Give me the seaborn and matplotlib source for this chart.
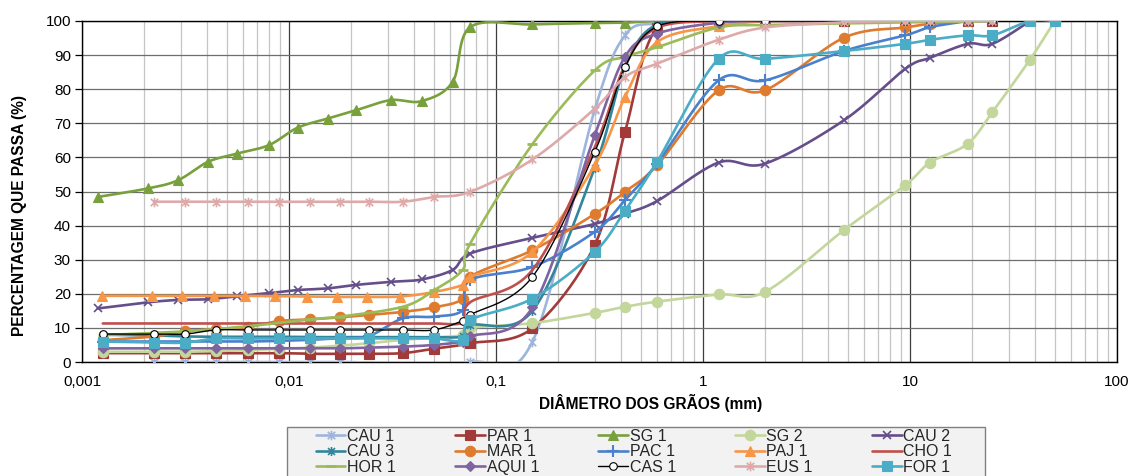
import numpy as np
import matplotlib
matplotlib.use("Agg")
import matplotlib.pyplot as plt
import seaborn as sns
from matplotlib.lines import Line2D
from matplotlib.path import Path
from matplotlib.patches import Rectangle
from matplotlib.ticker import FixedLocator, FixedFormatter, LogLocator, NullFormatter

# ---------------- data ----------------
NAMES = ["CAU 1", "PAR 1", "SG 1", "SG 2", "CAU 2", "CAU 3", "MAR 1", "PAC 1",
         "PAJ 1", "CHO 1", "HOR 1", "AQUI 1", "CAS 1", "EUS 1", "FOR 1"]

X_TICKS = [0.001, 0.01, 0.1, 1, 10, 100]
X_TICK_LABELS = ["0,001", "0,01", "0,1", "1", "10", "100"]
Y_TICKS = [0, 10, 20, 30, 40, 50, 60, 70, 80, 90, 100]

CAU1_D = [0.00223, 0.00315, 0.00444, 0.00634, 0.00895, 0.0126, 0.0176, 0.075, 0.15, 0.3, 0.42, 0.6, 1.19]
CAU1_P = [0, 0, 0, 0, 0, 0, 0, 0, 6.0, 74.0, 95.8, 99.3, 100]

PAR1_D = [0.00126, 0.00223, 0.00315, 0.00444, 0.00634, 0.00895, 0.0126, 0.0176, 0.0243, 0.0355, 0.0501,
          0.075, 0.15, 0.3, 0.42, 0.6, 1.19, 2.0, 4.8, 9.5, 12.5, 19, 25]
PAR1_P = [2.6, 2.6, 2.6, 2.6, 2.6, 2.6, 2.4, 2.4, 2.4, 2.6, 3.9,
          5.5, 9.9, 34.3, 67.5, 98.0, 100, 100, 100, 100, 100, 100, 100]

SG1_D = [0.00119, 0.00208, 0.00291, 0.00406, 0.0056, 0.0080, 0.0110, 0.0154, 0.0210, 0.0310, 0.0437, 0.0617,
         0.075, 0.15, 0.3, 0.42, 0.6, 1.19, 2.0]
SG1_P = [48.4, 50.9, 53.3, 58.7, 61.1, 63.6, 68.7, 71.4, 73.8, 76.8, 76.5, 82.1,
         98.2, 99.0, 99.4, 99.5, 100, 100, 100]

SG2_D = [0.00126, 0.00223, 0.00315, 0.00444, 0.00634, 0.00895, 0.0126, 0.0176, 0.0243, 0.0355, 0.0501, 0.069,
         0.075, 0.15, 0.3, 0.42, 0.6, 1.19, 2.0, 4.8, 9.5, 12.5, 19, 25, 38, 50]
SG2_P = [3.0, 3.0, 3.0, 3.2, 3.5, 3.8, 4.2, 4.8, 5.5, 6.5, 7.2, 7.9,
         10.0, 11.4, 14.4, 16.2, 17.7, 19.8, 20.6, 38.7, 51.9, 58.5, 64.0, 73.3, 88.7, 100]

CAU2_D = [0.00119, 0.00208, 0.00291, 0.00406, 0.0056, 0.0080, 0.0110, 0.0154, 0.0210, 0.0310, 0.0437, 0.0617,
          0.075, 0.15, 0.3, 0.42, 0.6, 1.19, 2.0, 4.8, 9.5, 12.5, 19, 25, 38]
CAU2_P = [15.7, 17.5, 18.2, 18.4, 19.3, 20.2, 21.1, 21.6, 22.6, 23.5, 24.2, 27.0,
          31.8, 36.4, 40.5, 43.5, 47.2, 58.5, 58.2, 70.9, 86.0, 89.2, 93.3, 93.3, 100]

CAU3_D = [0.00126, 0.00223, 0.00315, 0.00444, 0.00634, 0.00895, 0.0126, 0.0176, 0.0243, 0.0355, 0.0501, 0.069,
          0.075, 0.15, 0.3, 0.42, 0.6, 1.19, 2.0]
CAU3_P = [8.0, 7.8, 7.5, 7.4, 7.4, 7.4, 7.3, 7.3, 7.3, 7.3, 7.3, 7.5,
          10.8, 15.0, 57.0, 86.5, 99.0, 100, 100]

MAR1_D = [0.00126, 0.00223, 0.00315, 0.00444, 0.00634, 0.00895, 0.0126, 0.0176, 0.0243, 0.0355, 0.0501, 0.069,
          0.075, 0.15, 0.3, 0.42, 0.6, 1.19, 2.0, 4.8, 9.5, 12.5, 19]
MAR1_P = [6.4, 7.5, 9.0, 9.6, 10.3, 12.0, 12.5, 13.1, 13.8, 14.7, 16.0, 18.5,
          25.0, 32.8, 43.4, 49.9, 57.7, 79.7, 79.7, 95.1, 98.1, 99.2, 100]

PAC1_D = [0.00126, 0.00223, 0.00315, 0.00444, 0.00634, 0.00895, 0.0126, 0.0176, 0.0243, 0.0355, 0.0501, 0.069,
          0.075, 0.15, 0.3, 0.42, 0.6, 1.19, 2.0, 4.8, 9.5, 12.5, 19]
PAC1_P = [6.0, 6.0, 6.0, 6.0, 6.0, 6.2, 6.5, 7.0, 7.6, 12.8, 13.3, 15.2,
          24.0, 27.9, 38.2, 47.5, 58.2, 82.6, 82.6, 91.2, 95.8, 98.2, 100]

PAJ1_D = [0.00125, 0.00218, 0.00304, 0.00434, 0.00612, 0.00855, 0.0122, 0.0170, 0.0238, 0.0344, 0.05, 0.069,
          0.075, 0.15, 0.3, 0.42, 0.6, 1.19, 2.0]
PAJ1_P = [19.4, 19.4, 19.4, 19.4, 19.4, 19.3, 19.2, 19.1, 19.1, 19.2, 20.5, 22.6,
          25.0, 32.3, 57.7, 77.7, 93.8, 98.5, 100]

CHO1_D = [0.00126, 0.00223, 0.00315, 0.00444, 0.00634, 0.00895, 0.0126, 0.0176, 0.0243, 0.0355, 0.0501, 0.069,
          0.075, 0.15, 0.3, 0.42, 0.6, 1.19, 2.0]
CHO1_P = [11.3, 11.3, 11.3, 11.3, 11.3, 11.3, 11.3, 11.3, 11.3, 11.3, 11.3, 11.6,
          17.5, 27.0, 63.0, 87.0, 98.0, 100, 100]

HOR1_D = [0.00126, 0.00315, 0.00634, 0.0126, 0.0176, 0.0355, 0.0501, 0.069,
          0.075, 0.15, 0.3, 0.42, 0.6, 1.19, 2.0, 4.8, 9.5, 19, 25]
HOR1_P = [7.9, 9.0, 10.5, 12.5, 13.3, 16.2, 21.0, 27.0,
          34.7, 63.9, 85.5, 89.5, 92.3, 98.1, 98.8, 99.3, 99.6, 99.8, 100]

AQUI1_D = [0.00126, 0.00223, 0.00315, 0.00444, 0.00634, 0.00895, 0.0126, 0.0176, 0.0243, 0.0355, 0.0501, 0.069,
           0.075, 0.15, 0.3, 0.42, 0.6, 1.19, 2.0]
AQUI1_P = [4.0, 4.0, 4.0, 4.0, 4.0, 4.0, 4.0, 4.0, 4.2, 4.5, 5.0, 6.0,
           7.5, 16.0, 66.5, 89.5, 96.3, 99.5, 100]

CAS1_D = [0.00126, 0.00223, 0.00315, 0.00444, 0.00634, 0.00895, 0.0126, 0.0176, 0.0243, 0.0355, 0.0501, 0.069,
          0.075, 0.15, 0.3, 0.42, 0.6, 1.19, 2.0, 4.8, 9.5, 12.5, 19, 25]
CAS1_P = [8.2, 8.2, 8.2, 9.4, 9.4, 9.4, 9.4, 9.4, 9.4, 9.4, 9.4, 12.1,
          13.8, 25.0, 61.6, 86.5, 98.4, 100, 100, 100, 100, 100, 100, 100]

EUS1_D = [0.00223, 0.00315, 0.00444, 0.00634, 0.00895, 0.0126, 0.0176, 0.0243, 0.0355, 0.0501,
          0.075, 0.15, 0.3, 0.42, 0.6, 1.19, 2.0, 4.8, 9.5, 12.5, 19, 25]
EUS1_P = [47.0, 47.0, 47.0, 47.0, 47.0, 47.0, 47.0, 47.0, 47.0, 48.4,
          49.9, 59.4, 74.3, 83.6, 87.5, 94.5, 98.1, 99.6, 100, 100, 100, 100]

FOR1_D = [0.00126, 0.00223, 0.00315, 0.00444, 0.00634, 0.00895, 0.0126, 0.0176, 0.0243, 0.0355, 0.0501, 0.069,
          0.075, 0.15, 0.3, 0.42, 0.6, 1.19, 2.0, 4.8, 9.5, 12.5, 19, 25, 38, 50]
FOR1_P = [6.0, 5.7, 5.7, 6.9, 6.9, 6.9, 6.9, 6.9, 6.9, 6.9, 6.9, 6.4,
          12.3, 18.6, 32.3, 44.4, 58.7, 88.9, 88.9, 91.2, 93.3, 94.5, 95.8, 95.8, 100, 100]

SERIES_D = [CAU1_D, PAR1_D, SG1_D, SG2_D, CAU2_D, CAU3_D, MAR1_D, PAC1_D,
            PAJ1_D, CHO1_D, HOR1_D, AQUI1_D, CAS1_D, EUS1_D, FOR1_D]
SERIES_P = [CAU1_P, PAR1_P, SG1_P, SG2_P, CAU2_P, CAU3_P, MAR1_P, PAC1_P,
            PAJ1_P, CHO1_P, HOR1_P, AQUI1_P, CAS1_P, EUS1_P, FOR1_P]

# ---------------- styles ----------------
STAR = Path([(-1, -1), (1, 1), (-1, 1), (1, -1), (0, -1.3), (0, 1.3)],
            [Path.MOVETO, Path.LINETO, Path.MOVETO, Path.LINETO, Path.MOVETO, Path.LINETO])

STYLES = {
    "CAU 1": dict(color="#9DB5DC", marker=STAR, ms=7, mew=1.2, filled=False),
    "PAR 1": dict(color="#A23A3A", marker="s", ms=6.5, filled=True),
    "SG 1": dict(color="#78A03C", marker="^", ms=7.5, filled=True),
    "SG 2": dict(color="#C3D69B", marker="o", ms=7.5, filled=True),
    "CAU 2": dict(color="#654E8A", marker="x", ms=6, mew=1.2, filled=False),
    "CAU 3": dict(color="#31859C", marker=STAR, ms=6.5, mew=1.2, filled=False),
    "MAR 1": dict(color="#DE7B2E", marker="o", ms=7.5, filled=True),
    "PAC 1": dict(color="#4A80CC", marker="+", ms=8, mew=1.5, filled=False),
    "PAJ 1": dict(color="#F79646", marker="^", ms=7.5, filled=True),
    "CHO 1": dict(color="#C0504D", marker=None, ms=0, filled=True),
    "HOR 1": dict(color="#9BBB59", marker="_", ms=7, mew=2, filled=False),
    "AQUI 1": dict(color="#8064A2", marker="D", ms=5.5, filled=True),
    "CAS 1": dict(color="#000000", marker="o", ms=5.5, filled=True, mfc="white", lw=1.0),
    "EUS 1": dict(color="#DEA9A9", marker=STAR, ms=7, mew=1.2, filled=False),
    "FOR 1": dict(color="#4BACC6", marker="s", ms=7, filled=True),
}


def smooth(xs, ys, n=24):
    """Excel-like smoothed line (Bezier / Catmull-Rom) in log-x space."""
    pts = np.column_stack([np.log10(xs), np.asarray(ys, float)])
    P = np.vstack([pts[0], pts, pts[-1]])
    out = []
    t = np.linspace(0, 1, n)[:, None]
    for i in range(1, len(P) - 2):
        p0, p1, p2, p3 = P[i - 1], P[i], P[i + 1], P[i + 2]
        c1 = p1 + (p2 - p0) / 6.0
        c2 = p2 - (p3 - p1) / 6.0
        seg = (1 - t) ** 3 * p1 + 3 * (1 - t) ** 2 * t * c1 + 3 * (1 - t) * t ** 2 * c2 + t ** 3 * p2
        out.append(seg if i == 1 else seg[1:])
    s = np.vstack(out)
    return 10 ** s[:, 0], s[:, 1]


# ---------------- figure ----------------
sns.set_theme(style="white")
plt.rcParams["font.family"] = ["Liberation Sans", "DejaVu Sans"]

W, H = 1133, 476
fig = plt.figure(figsize=(W / 100, H / 100), dpi=100)
ax = fig.add_axes([82 / W, 1 - 362 / H, (1117 - 82) / W, (362 - 21) / H])
ax.set_xscale("log")
ax.set_xlim(0.001, 100)
ax.set_ylim(0, 100)

handles = []
for k, name in enumerate(NAMES):
    st = STYLES[name]
    c = st["color"]
    lw = st.get("lw", 1.9)
    sx, sy = smooth(SERIES_D[k], SERIES_P[k])
    sns.lineplot(x=sx, y=sy, ax=ax, color=c, lw=lw, sort=False, estimator=None,
                 zorder=3 + k, solid_capstyle="round")
    mk = dict(marker=st["marker"], ms=st["ms"], mew=st.get("mew", 0.8))
    if st["marker"] is not None:
        if st["filled"]:
            mk.update(mfc=st.get("mfc", c), mec=c)
        else:
            mk.update(mec=c, mfc="none")
        sns.lineplot(x=SERIES_D[k], y=SERIES_P[k], ax=ax, linestyle="", sort=False,
                     estimator=None, zorder=3.5 + k, color=c, **mk)
    handles.append(Line2D([], [], color=c, lw=lw if name != "CAS 1" else 1.0,
                          **({} if st["marker"] is None else mk)))

# grid & axes styling
ax.xaxis.set_major_locator(FixedLocator(X_TICKS))
ax.xaxis.set_major_formatter(FixedFormatter(X_TICK_LABELS))
ax.xaxis.set_minor_locator(LogLocator(base=10, subs=np.arange(2, 10)))
ax.xaxis.set_minor_formatter(NullFormatter())
ax.set_yticks(Y_TICKS)
ax.set_axisbelow(True)
ax.grid(which="major", axis="x", color="#3C3C3C", lw=0.9)
ax.grid(which="minor", axis="x", color="#C4C4C4", lw=0.9)
ax.grid(which="major", axis="y", color="#6E6E6E", lw=0.9)
for s in ax.spines.values():
    s.set_color("black")
    s.set_linewidth(1.0)
ax.tick_params(axis="x", which="both", length=0, pad=9, labelsize=11, colors="black")
ax.tick_params(axis="y", which="major", length=5, width=0.9, direction="out", pad=3,
               labelsize=11, colors="black", left=True)

ax.set_xlabel("DIÂMETRO DOS GRÃOS (mm)", fontsize=11.2, fontweight="bold", color="black")
ax.xaxis.set_label_coords((651 - 82) / 1035, -0.093)
ax.set_ylabel("PERCENTAGEM QUE PASSA (%)", fontsize=11.2, fontweight="bold", color="black")
ax.yaxis.set_label_coords(-0.053, 0.431)

# legend box (cut by the lower border of the picture, as in the reference)
fig.patches.append(Rectangle((287 / W, 1 - 484 / H), (985 - 287) / W, (484 - 427) / H,
                             transform=fig.transFigure, facecolor="#F2F2F2",
                             edgecolor="#808080", lw=1.0, zorder=0))

ncol = 5
nrow = 3
order = [r * ncol + c for c in range(ncol) for r in range(nrow)]
leg = fig.legend([handles[i] for i in order], [NAMES[i] for i in order], ncol=ncol,
                 loc="upper center", bbox_to_anchor=(634 / W, 1 - 428 / H),
                 fontsize=11.5, frameon=False, handlelength=1.85,
                 handletextpad=0.12, columnspacing=3.7, labelspacing=0.04,
                 borderpad=0.05, borderaxespad=0)

fig.savefig("out.png", dpi=100)
